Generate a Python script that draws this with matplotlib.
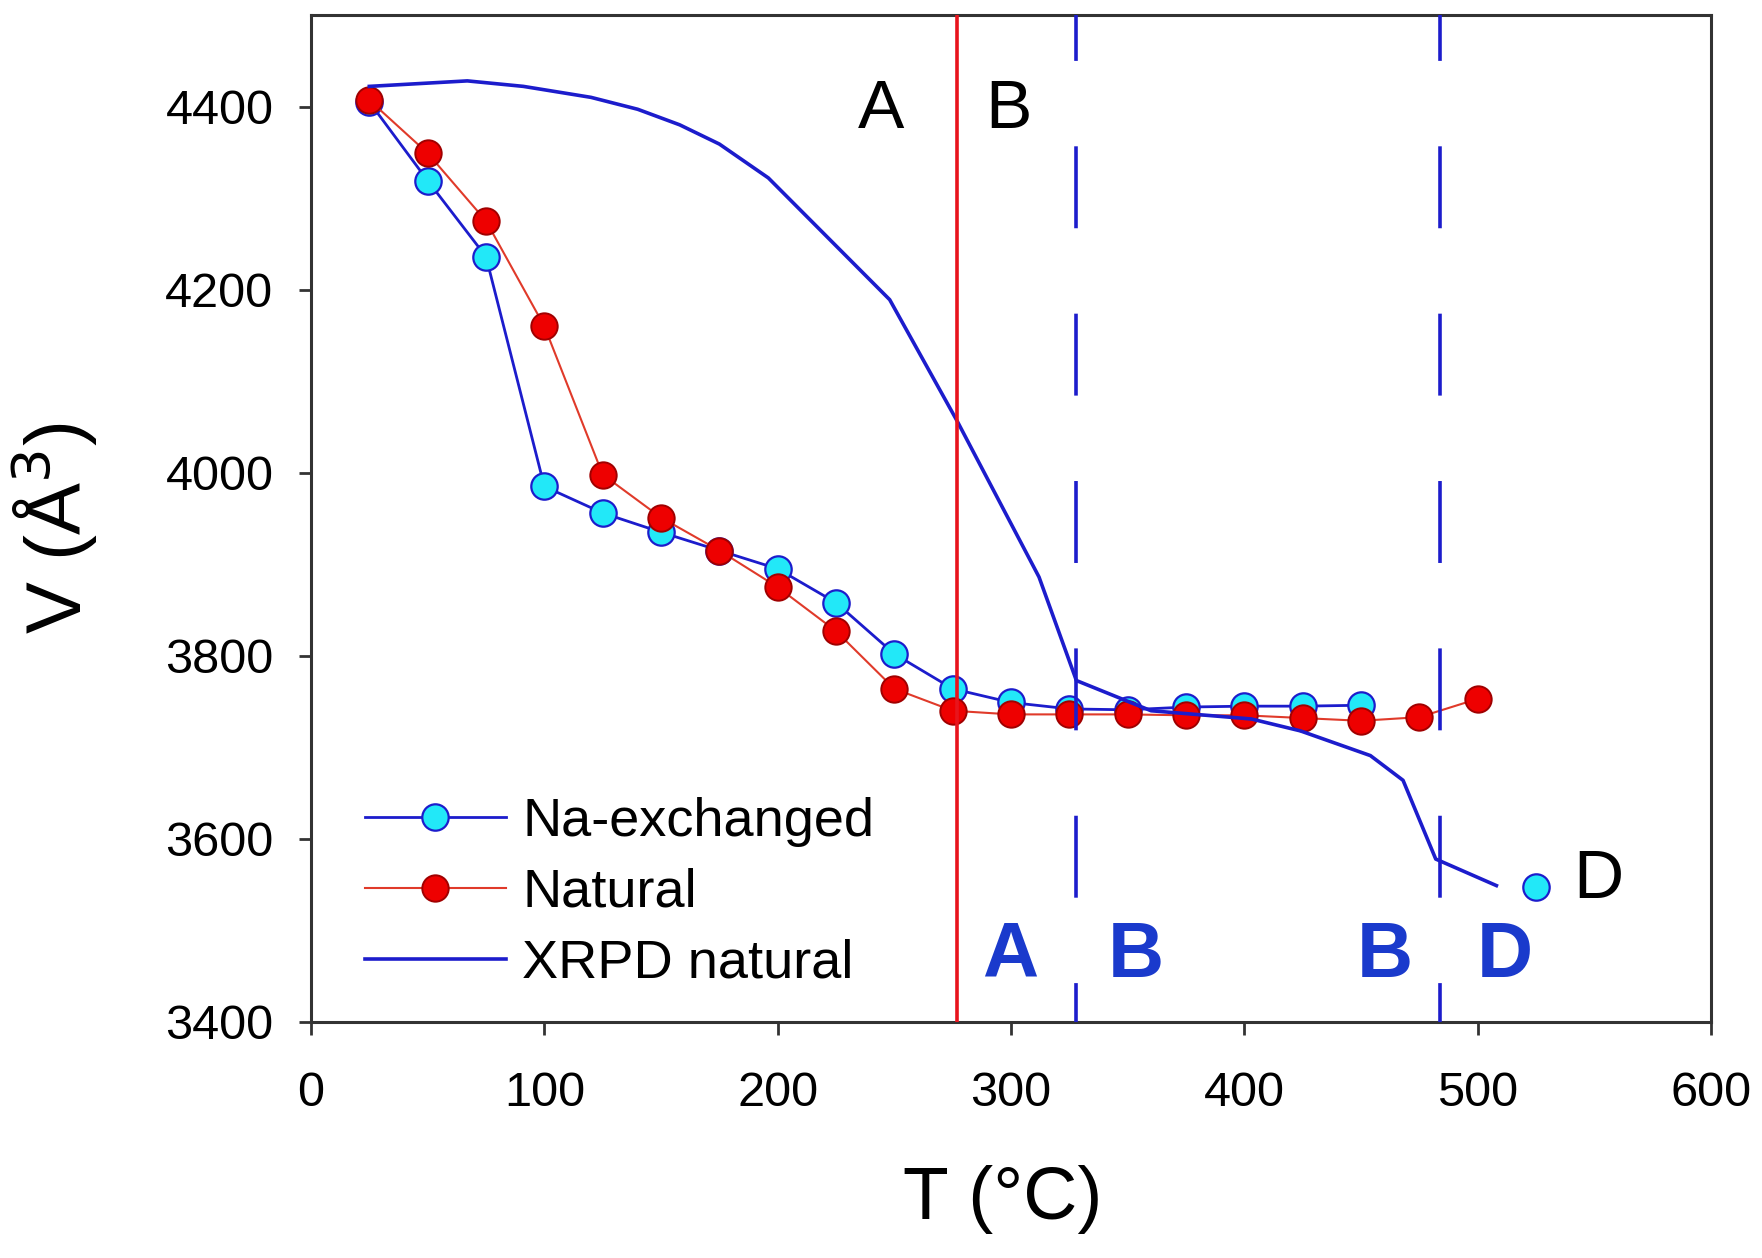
"""
plot.py
Unit-cell volume vs temperature for Na-exchanged and natural samples.
"""

import matplotlib
matplotlib.use("Agg")
import matplotlib.pyplot as plt

plt.rcParams["font.family"] = ["Liberation Sans", "DejaVu Sans"]
plt.rcParams["lines.scale_dashes"] = False

# Na-exchanged (cyan circles)
na_T = [25, 50, 75, 100, 125, 150, 175, 200, 225, 250, 275, 300, 325, 350, 375, 400, 425, 450]
na_V = [4405, 4319, 4236, 3985, 3956, 3935, 3915, 3895, 3858, 3802, 3764, 3749, 3742, 3741,
        3744, 3745, 3745, 3746]

# isolated Na-exchanged point labelled D
na_d_T = [525]
na_d_V = [3548]

# Natural (red circles)
nat_T = [25, 50, 75, 100, 125, 150, 175, 200, 225, 250, 275, 300, 325, 350, 375, 400, 425,
         450, 475, 500]
nat_V = [4407, 4349, 4275, 4160, 3998, 3951, 3915, 3875, 3827, 3764, 3740, 3736, 3736, 3736,
         3735, 3735, 3732, 3729, 3733, 3753]

# XRPD natural (line only)
xrpd_T = [25, 67, 91, 120, 140, 158, 175, 196, 248, 277, 312, 328, 360, 403, 424, 454, 468,
          482, 508]
xrpd_V = [4422, 4428, 4422, 4410, 4397, 4380, 4359, 4322, 4189, 4056, 3886, 3773, 3740, 3731,
          3718, 3691, 3664, 3578, 3549]

# phase boundaries
red_boundary = 277
dashed_boundaries = [328, 484]

# region labels
top_labels = ["A", "B"]
top_label_T = [244.5, 299]
top_label_V = 4396
bottom_labels = ["A", "B", "B", "D"]
bottom_label_T = [299.5, 353.5, 460, 511.5]
bottom_label_V = 3472

blue = "#1c1ccc"
red = "#e8141c"

fig = plt.figure(figsize=(17.62, 12.58), dpi=100)
ax = fig.add_axes([0.1765, 0.1876, 0.7946, 0.8005])

ax.plot(na_T, na_V, color=blue, lw=2.0, marker="o", ms=19, mfc="#22e8f8", mec=blue,
        mew=1.6, label="Na-exchanged", zorder=3)
ax.plot(nat_T, nat_V, color="#e03a2a", lw=1.5, marker="o", ms=19, mfc="#ee0000",
        mec="#a00000", mew=1.4, label="Natural", zorder=4)
ax.plot(xrpd_T, xrpd_V, color=blue, lw=2.6, label="XRPD natural", zorder=5)
ax.plot(na_d_T, na_d_V, ls="none", marker="o", ms=19, mfc="#22e8f8", mec=blue, mew=1.6,
        zorder=4)

ax.axvline(red_boundary, color=red, lw=2.6, zorder=6)
for xb in dashed_boundaries:
    ax.axvline(xb, color=blue, lw=2.6, linestyle=(31, (59, 61.5)), zorder=6)

for lab, t in zip(top_labels, top_label_T):
    ax.text(t, top_label_V, lab, fontsize=50, ha="center", va="center", color="black")
for lab, t in zip(bottom_labels, bottom_label_T):
    ax.text(t, bottom_label_V, lab, fontsize=56, fontweight="bold", ha="center",
            va="center", color="#1a3acc")
ax.text(551.5, 3555, "D", fontsize=50, ha="center", va="center", color="black")

ax.set_xlim(0, 600)
ax.set_ylim(3400, 4500)
ax.set_xticks([0, 100, 200, 300, 400, 500, 600])
ax.set_yticks([3400, 3600, 3800, 4000, 4200, 4400])
ax.tick_params(direction="out", length=9, width=2, labelsize=35, color="#333333")
ax.tick_params(axis="y", pad=18)
ax.tick_params(axis="x", pad=26)
for sp in ax.spines.values():
    sp.set_linewidth(2.2)
    sp.set_color("#333333")

ax.set_xlabel("T (°C)", fontsize=54)
ax.set_ylabel("V (Å$^3$)", fontsize=56)
ax.xaxis.set_label_coords(0.494, -0.142)
ax.yaxis.set_label_coords(-0.151, 0.49)

ax.legend(loc="upper left", bbox_to_anchor=(0.019, 0.25), frameon=False, fontsize=39,
          handlelength=2.6, handletextpad=0.31, labelspacing=0.38, borderpad=0)

fig.savefig("out.png", dpi=100)
